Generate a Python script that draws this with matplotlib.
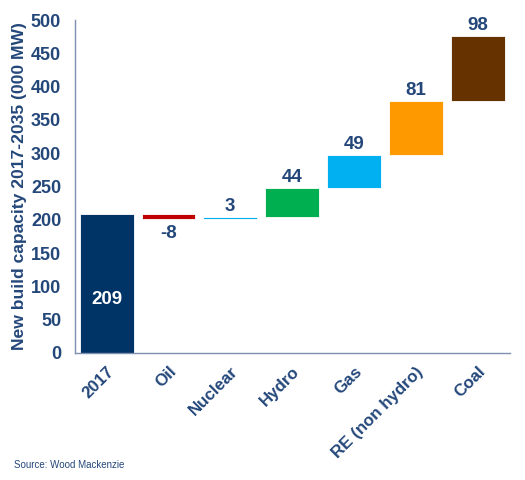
import numpy as np
import matplotlib.pyplot as plt

plt.rcParams['font.family'] = ['Liberation Sans', 'DejaVu Sans']

categories = ['2017', 'Oil', 'Nuclear', 'Hydro', 'Gas', 'RE (non hydro)', 'Coal']
changes = [209, -8, 3, 44, 49, 81, 98]
colors = ['#003366', '#C00000', '#00B0F0', '#00B050', '#00B0F0', '#FF9900', '#663300']
txt_col = '#24477A'

# waterfall bases
bottoms = []
running = 0
for i, v in enumerate(changes):
    if i == 0:
        bottoms.append(0)
        running = v
    else:
        bottoms.append(running + min(v, 0))
        running += v
heights = [abs(v) for v in changes]

fig = plt.figure(figsize=(5.25, 4.8), dpi=100)
ax = fig.add_axes([0.143, 0.265, 0.828, 0.693])

x = np.arange(len(categories))
ax.bar(x, heights, bottom=bottoms, width=0.87, color=colors, edgecolor='white', linewidth=0.6)

for i, v in enumerate(changes):
    if i == 0:
        ax.text(x[i], 80, str(v), ha='center', va='center', color='white',
                fontsize=13.5, fontweight='bold')
    elif v < 0:
        ax.annotate(str(v), (x[i], bottoms[i]), xytext=(0, -4), textcoords='offset points',
                    ha='center', va='top', color=txt_col, fontsize=13.5, fontweight='bold')
    else:
        ax.annotate(str(v), (x[i], bottoms[i] + heights[i]), xytext=(0, 1.5), textcoords='offset points',
                    ha='center', va='bottom', color=txt_col, fontsize=13.5, fontweight='bold')

ax.set_xlim(-0.51, 6.52)
ax.set_ylim(0, 500)
ax.set_yticks(np.arange(0, 501, 50))
ax.set_xticks(x)
ax.set_xticklabels(categories, rotation=45, ha='right', rotation_mode='anchor')
ax.tick_params(axis='y', length=0, labelsize=13, labelcolor=txt_col, pad=10)
ax.tick_params(axis='x', length=0, labelsize=12.2, labelcolor=txt_col, pad=8)
for lbl in ax.get_xticklabels() + ax.get_yticklabels():
    lbl.set_fontweight('bold')

for s in ['top', 'right']:
    ax.spines[s].set_visible(False)
for s in ['left', 'bottom']:
    ax.spines[s].set_color('#7F8FB0')
    ax.spines[s].set_linewidth(1)

ax.set_ylabel('New build capacity 2017-2035 (000 MW)', color=txt_col, fontsize=12.6,
              fontweight='bold', labelpad=3)

fig.text(0.027, 0.026, 'Source: Wood Mackenzie', color=txt_col, fontsize=7)

fig.savefig('out.png', dpi=100)
